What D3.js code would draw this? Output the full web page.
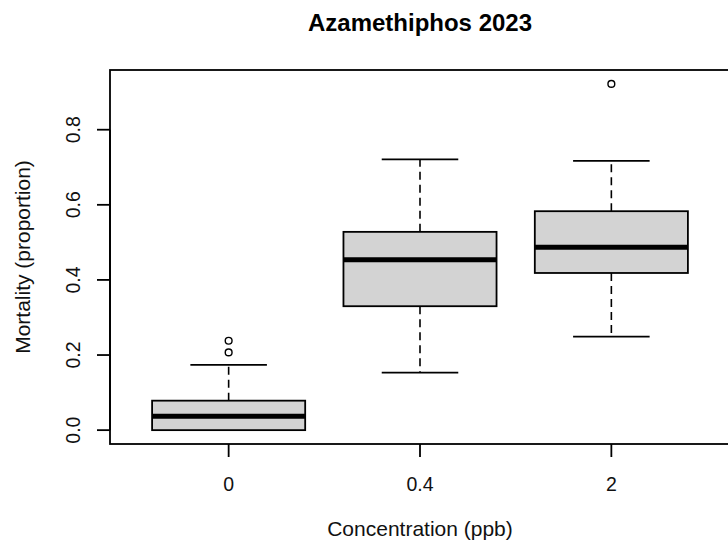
<!DOCTYPE html>
<html><head><meta charset="utf-8">
<script src="https://cdn.jsdelivr.net/npm/d3@7"></script>
<style>body{margin:0;background:#fff}svg{display:block}</style>
</head><body>
<script>
const categories = ["0", "0.4", "2"];
const lowerWhisker = [0.0, 0.153, 0.249];
const q1 = [0.0, 0.330, 0.4185];
const median = [0.0367, 0.454, 0.487];
const q3 = [0.0785, 0.528, 0.583];
const upperWhisker = [0.174, 0.721, 0.717];
const outliers = [[0.207, 0.238], [], [0.922]];
const yTicks = [0.0, 0.2, 0.4, 0.6, 0.8];

const W = 728, H = 546;
const L = 110, R = 730, T = 70, B = 444;
const font = "'Liberation Sans', Arial, Helvetica, sans-serif";

const svg = d3.select("body").append("svg").attr("width", W).attr("height", H);

const x = d3.scaleLinear().domain([0.38, 3.62]).range([L, R]);
const yMin = -0.0369, yMax = 0.959;
const y = d3.scaleLinear().domain([yMin, yMax]).range([B, T]);
const step = x(2) - x(1);
const bw = step * 0.8, sw = bw * 0.5;

const g = svg.append("g");
categories.forEach((c, i) => {
  const cx = x(i + 1);
  g.append("line").attr("x1", cx).attr("x2", cx).attr("y1", y(q3[i])).attr("y2", y(upperWhisker[i]))
    .attr("stroke", "#000").attr("stroke-width", 1.6).attr("stroke-dasharray", "8,5");
  g.append("line").attr("x1", cx).attr("x2", cx).attr("y1", y(q1[i])).attr("y2", y(lowerWhisker[i]))
    .attr("stroke", "#000").attr("stroke-width", 1.6).attr("stroke-dasharray", "8,5");
  [upperWhisker[i], lowerWhisker[i]].forEach(v => {
    g.append("line").attr("x1", cx - sw / 2).attr("x2", cx + sw / 2).attr("y1", y(v)).attr("y2", y(v))
      .attr("stroke", "#000").attr("stroke-width", 1.8);
  });
  g.append("rect").attr("x", cx - bw / 2).attr("width", bw)
    .attr("y", y(q3[i])).attr("height", y(q1[i]) - y(q3[i]))
    .attr("fill", "#D3D3D3").attr("stroke", "#000").attr("stroke-width", 1.8);
  g.append("line").attr("x1", cx - bw / 2).attr("x2", cx + bw / 2).attr("y1", y(median[i])).attr("y2", y(median[i]))
    .attr("stroke", "#000").attr("stroke-width", 5);
  outliers[i].forEach(v => {
    g.append("circle").attr("cx", cx).attr("cy", y(v)).attr("r", 3.4)
      .attr("fill", "none").attr("stroke", "#000").attr("stroke-width", 1.4);
  });
});

svg.append("rect").attr("x", L).attr("y", T).attr("width", R - L).attr("height", B - T)
  .attr("fill", "none").attr("stroke", "#000").attr("stroke-width", 1.8);

const ya = svg.append("g");
ya.append("line").attr("x1", L).attr("x2", L).attr("y1", y(0)).attr("y2", y(0.8)).attr("stroke", "#000").attr("stroke-width", 1.8);
yTicks.forEach(t => {
  ya.append("line").attr("x1", L - 13).attr("x2", L).attr("y1", y(t)).attr("y2", y(t)).attr("stroke", "#000").attr("stroke-width", 1.8);
  ya.append("text").attr("transform", `translate(80,${y(t)}) rotate(-90)`)
    .attr("text-anchor", "middle").attr("font-family", font).attr("font-size", 19.5).attr("fill", "#111")
    .text(d3.format(".1f")(t));
});

categories.forEach((c, i) => {
  const cx = x(i + 1);
  svg.append("line").attr("x1", cx).attr("x2", cx).attr("y1", B).attr("y2", B + 13).attr("stroke", "#000").attr("stroke-width", 1.8);
  svg.append("text").attr("x", cx).attr("y", 491).attr("text-anchor", "middle")
    .attr("font-family", font).attr("font-size", 19.5).attr("fill", "#111").text(c);
});

svg.append("text").attr("x", (L + R) / 2).attr("y", 536).attr("text-anchor", "middle")
  .attr("font-family", font).attr("font-size", 21).attr("fill", "#111").text("Concentration (ppb)");
svg.append("text").attr("transform", `translate(30,${(T + B) / 2}) rotate(-90)`).attr("text-anchor", "middle")
  .attr("font-family", font).attr("font-size", 21).attr("fill", "#111").text("Mortality (proportion)");
svg.append("text").attr("x", (L + R) / 2).attr("y", 31).attr("text-anchor", "middle")
  .attr("font-family", font).attr("font-size", 24).attr("font-weight", "bold").attr("fill", "#000").text("Azamethiphos 2023");
</script>
</body></html>
